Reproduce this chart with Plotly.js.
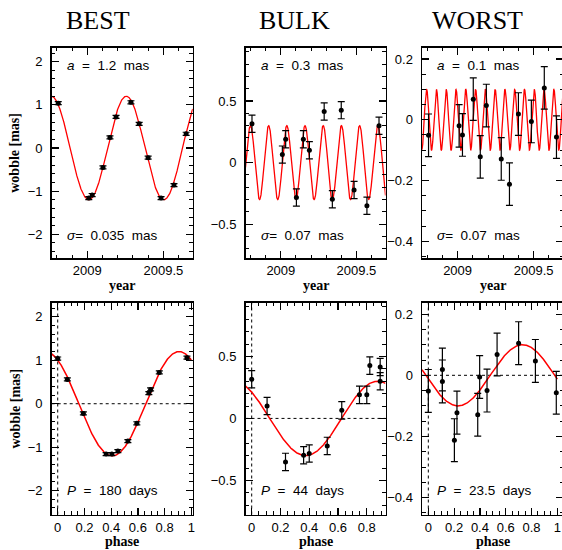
<!DOCTYPE html>
<html><head><meta charset="utf-8">
<script src="https://cdn.plot.ly/plotly-3.0.1.min.js"></script>
<style>html,body{margin:0;padding:0;overflow:hidden;background:#fff}#chart{width:564px;height:550px}</style>
</head><body><div id="chart"></div>
<script>
// ---- data ----
const panelTitles = ["BEST", "BULK", "WORST"];
const epochs = [2008.809, 2009.010, 2009.032, 2009.103, 2009.149, 2009.189, 2009.287, 2009.341, 2009.400, 2009.485, 2009.570, 2009.650];
const yearTickVals = [2009, 2009.5];
const yearTickText = ["2009", "2009.5"];

const bestWobble = [1.04, -1.16, -1.09, -0.45, 0.245, 0.72, 1.06, 0.56, -0.224, -1.16, -0.86, 0.33];
const bestPhase  = [0.0, 0.405, 0.45, 0.592, 0.682, 0.76, 0.967, 0.072, 0.192, 0.362, 0.525, 0.695];

const bulkWobble = [0.316, 0.065, 0.19, -0.283, 0.19, 0.10, 0.415, -0.297, 0.426, -0.222, -0.351, 0.30];
const bulkPhase  = [0.0, 0.626, 0.749, 0.40, 0.80, 0.107, 0.893, 0.361, 0.821, 0.525, 0.235, 0.893];

const worstWobble = [-0.051, -0.020, -0.050, 0.068, -0.122, 0.047, -0.129, -0.212, 0.019, -0.0055, 0.105, -0.057];
const worstPhase  = [0.0, 0.109, 0.455, 0.533, 0.222, 0.83, 0.383, 0.202, 0.109, 0.398, 0.70, 0.992];

// model parameters (a [mas], P [days], sigma [mas]) as printed in the panels
const amplitude = [1.2, 0.3, 0.1];
const periodDays = [180, 44, 23.5];
const sigma = [0.035, 0.07, 0.07];
const peakEpoch = [2009.2565, 2009.160, 2009.1825];
const peakPhase = [0.908, 0.875, 0.73];

const aLabels = ["1.2", "0.3", "0.1"];
const sLabels = ["0.035", "0.07", "0.07"];
const pLabels = ["180", "44", "23.5"];

// ---- layout geometry ----
const W = 564, H = 550;
const cols = [[51.7, 192.7], [245.5, 385.5], [422, 563]];
const rows = [[47.5, 258], [302.5, 514.5]];
const px = x => x / W;
const py = y => 1 - y / H;

const timeRange = [2008.766, 2009.693];
const phaseRanges = [[-0.045, 1.01], [-0.043, 0.93], [-0.049, 1.044]];
const yRanges = [[-2.55, 2.33], [-0.775, 0.935], [-0.455, 0.238]];
const yDticks = [1, 0.5, 0.2];
const yMinor = [0.2, 0.1, 0.05];

const wobbles = [bestWobble, bulkWobble, worstWobble];
const phases = [bestPhase, bulkPhase, worstPhase];

function linspace(a, b, n) { const o = []; for (let i = 0; i < n; i++) o.push(a + (b - a) * i / (n - 1)); return o; }

const traces = [];
for (let k = 0; k < 3; k++) {
  const Pyr = periodDays[k] / 365.25;
  const sx = k === 0 ? '' : String(k + 1);
  const tx = linspace(timeRange[0], timeRange[1], 1200);
  traces.push({x: tx, y: tx.map(t => amplitude[k] * Math.cos(2 * Math.PI * (t - peakEpoch[k]) / Pyr)),
    xaxis: 'x' + sx, yaxis: 'y' + sx,
    mode: 'lines', line: {color: '#ff0000', width: 1.3}, hoverinfo: 'skip'});
  traces.push({x: epochs, y: wobbles[k], xaxis: 'x' + sx, yaxis: 'y' + sx,
    mode: 'markers', marker: {color: '#000', size: 5},
    error_y: {type: 'constant', value: sigma[k], color: '#000', thickness: 1.2, width: 3.5}});
  const ph = linspace(phaseRanges[k][0], Math.min(1, phaseRanges[k][1]), 400);
  traces.push({x: ph, y: ph.map(p => amplitude[k] * Math.cos(2 * Math.PI * (p - peakPhase[k]))),
    xaxis: 'x' + (k + 4), yaxis: 'y' + (k + 4),
    mode: 'lines', line: {color: '#ff0000', width: 1.5}, hoverinfo: 'skip'});
  traces.push({x: phases[k], y: wobbles[k], xaxis: 'x' + (k + 4), yaxis: 'y' + (k + 4),
    mode: 'markers', marker: {color: '#000', size: 5},
    error_y: {type: 'constant', value: sigma[k], color: '#000', thickness: 1.2, width: 3.5}});
}

function ax(extra, minorDtick) {
  return Object.assign({
    showline: true, linecolor: '#000', linewidth: 1.5, mirror: 'allticks',
    ticks: 'inside', ticklen: 7, tickwidth: 1.2, tickcolor: '#000',
    showgrid: false, zeroline: false, fixedrange: true,
    tickfont: {family: 'Liberation Sans, Arial, sans-serif', size: 13, color: '#000'},
    minor: {ticks: 'inside', ticklen: 3.5, tickwidth: 1, tickcolor: '#000', dtick: minorDtick, tick0: 0, showgrid: false}
  }, extra);
}

const layout = {
  width: W, height: H, margin: {l: 0, r: 0, t: 0, b: 0},
  paper_bgcolor: '#fff', plot_bgcolor: '#fff', showlegend: false,
  annotations: [], shapes: []
};

for (let k = 0; k < 3; k++) {
  for (let r = 0; r < 2; r++) {
    const idx = r * 3 + k + 1;
    const s = idx === 1 ? '' : String(idx);
    const xa = 'x' + s, ya = 'y' + s;
    const dom = [px(cols[k][0]), px(cols[k][1])];
    layout['xaxis' + s] = r === 0
      ? ax({range: timeRange, tickmode: 'array', tickvals: yearTickVals, ticktext: yearTickText, anchor: ya, domain: dom, ticklabelstandoff: 0}, 0.1)
      : ax({range: phaseRanges[k], dtick: 0.2, tick0: 0, anchor: ya, domain: dom, ticklabelstandoff: 0}, 0.05);
    if (r === 0) layout['xaxis' + s].minor.tick0 = 2009;
    layout['yaxis' + s] = ax({range: yRanges[k], dtick: yDticks[k], tick0: 0, anchor: xa,
      domain: [py(rows[r][1]), py(rows[r][0])], ticklabelstandoff: 5}, yMinor[k]);
    if (r === 1) {
      layout.shapes.push({type: 'line', xref: xa + ' domain', x0: 0, x1: 1, yref: ya, y0: 0, y1: 0,
        line: {color: '#000', width: 1, dash: 'dot'}, layer: 'below'});
      layout.shapes.push({type: 'line', xref: xa, x0: 0, x1: 0, yref: ya + ' domain', y0: 0, y1: 1,
        line: {color: '#000', width: 1, dash: 'dot'}, layer: 'below'});
    }
  }
}

const txtFont = {family: 'Liberation Sans, Arial, sans-serif', size: 13.5, color: '#000'};
const axFont = {family: 'Liberation Serif, Times New Roman, serif', size: 14, color: '#000'};
const titleX = [97.5, 294, 478];
const A = layout.annotations;
for (let k = 0; k < 3; k++) {
  A.push({text: panelTitles[k], xref: 'paper', yref: 'paper', x: px(titleX[k]), y: py(20), xanchor: 'center', yanchor: 'middle', showarrow: false,
    font: {family: 'Liberation Serif, Times New Roman, serif', size: 26, color: '#000'}});
  const lx = px(cols[k][0] + 13);
  A.push({text: '<i>a</i>\u00a0 =\u00a0 ' + aLabels[k] + '\u00a0 mas', xref: 'paper', yref: 'paper', x: lx, y: py(65.7), xanchor: 'left', yanchor: 'middle', showarrow: false, font: txtFont});
  A.push({text: '<i>\u03c3</i>=\u00a0 ' + sLabels[k] + '\u00a0 mas', xref: 'paper', yref: 'paper', x: lx, y: py(235), xanchor: 'left', yanchor: 'middle', showarrow: false, font: txtFont});
  A.push({text: '<i>P</i>\u00a0 =\u00a0 ' + pLabels[k] + '\u00a0 days', xref: 'paper', yref: 'paper', x: lx, y: py(490), xanchor: 'left', yanchor: 'middle', showarrow: false, font: txtFont});
  const cx = px((cols[k][0] + cols[k][1]) / 2);
  A.push({text: '<b>year</b>', xref: 'paper', yref: 'paper', x: cx, y: py(285), xanchor: 'center', yanchor: 'middle', showarrow: false, font: axFont});
  A.push({text: '<b>phase</b>', xref: 'paper', yref: 'paper', x: cx, y: py(541.5), xanchor: 'center', yanchor: 'middle', showarrow: false, font: axFont});
}
for (let r = 0; r < 2; r++) {
  A.push({text: '<b>wobble [mas]</b>', xref: 'paper', yref: 'paper', x: px(15), y: py((rows[r][0] + rows[r][1]) / 2), xanchor: 'center', yanchor: 'middle', textangle: -90, showarrow: false,
    font: axFont});
}

Plotly.newPlot('chart', traces, layout, {staticPlot: true, displayModeBar: false});
</script>
</body></html>
